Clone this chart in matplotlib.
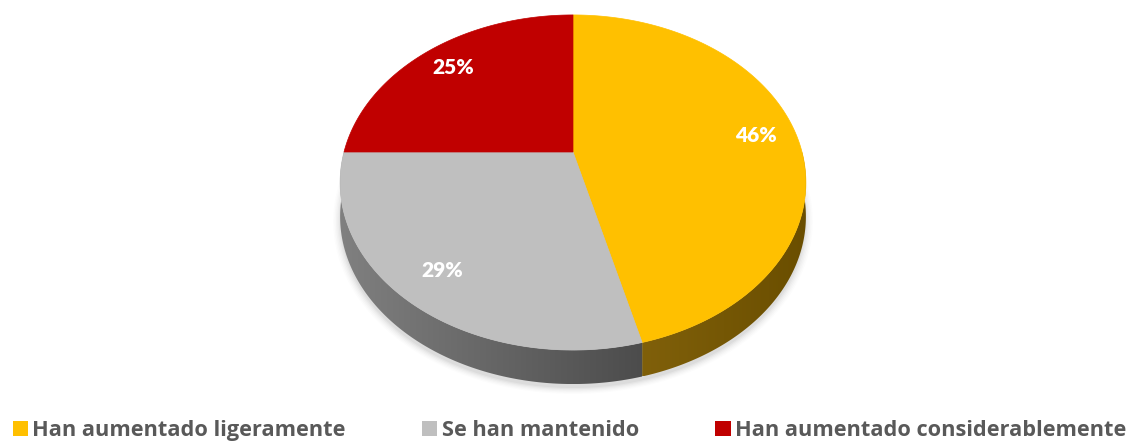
import numpy as np
import matplotlib
matplotlib.use("Agg")
import matplotlib.pyplot as plt
from matplotlib.patches import Polygon, Patch
from matplotlib.colors import LinearSegmentedColormap

# slices, clockwise from 12 o'clock
categories = ["Han aumentado ligeramente", "Se han mantenido", "Han aumentado considerablemente"]
shares = [46, 29, 25]

top_colors = ["#FFC000", "#BFBFBF", "#C00000"]
side_colors = [("#80600A", "#6A4E00"), ("#808080", "#4C4C4C"), ("#7A0000", "#5A0000")]

# perspective disc geometry (pixel space)
CX, CY = 573, 152
A, B, K = 229, 162, 0.182
DEPTH = 34
LABEL_R = 0.82


def project(u, v):
    w = 1 + K * v
    return CX + A * u / w, CY - B * v / w


def arc(t0, t1, n=200):
    t = np.radians(np.linspace(t0, t1, n))
    return project(np.cos(t), np.sin(t))


fig = plt.figure(figsize=(11.38, 4.41), dpi=100)
ax = fig.add_axes([0, 0, 1, 1])
ax.set_xlim(0, 1138)
ax.set_ylim(441, 0)
ax.axis("off")

# wedge angles from the shares
fracs = np.array(shares) / sum(shares)
ends = 90 - 360 * np.cumsum(fracs)
starts = np.concatenate([[90], ends[:-1]])

# faint shadow under the disc
for i, a in enumerate(np.linspace(0.035, 0.01, 6)):
    xs, ys = arc(0, 360)
    grow = 1 + 0.006 * i
    sx = CX + (xs - CX) * grow
    sy = CY + 4 + (ys - CY) * grow + DEPTH
    ax.add_patch(Polygon(np.column_stack([sx, sy]), closed=True,
                         facecolor="black", edgecolor="none", alpha=a, zorder=0))

# side walls of the front half
grad = np.linspace(0, 1, 256).reshape(1, -1)
for s, e, (c0, c1) in zip(starts, ends, side_colors):
    lo, hi = max(e, -180), min(s, 0)
    if lo >= hi:
        lo, hi = max(e + 360, -180), min(s + 360, 0)
        if lo >= hi:
            continue
    xs, ys = arc(hi, lo)
    pts = np.concatenate([np.column_stack([xs, ys]),
                          np.column_stack([xs[::-1], ys[::-1] + DEPTH])])
    poly = Polygon(pts, closed=True, facecolor="none", edgecolor="none", zorder=1)
    ax.add_patch(poly)
    cmap = LinearSegmentedColormap.from_list("side", [c0, c1])
    im = ax.imshow(grad, cmap=cmap, aspect="auto", zorder=1,
                   extent=(xs.min(), xs.max(), ys.max() + DEPTH, ys.min()))
    im.set_clip_path(poly)

ax.set_xlim(0, 1138)
ax.set_ylim(441, 0)

# top faces
for s, e, c in zip(starts, ends, top_colors):
    xs, ys = arc(s, e)
    pts = np.vstack([[CX, CY], np.column_stack([xs, ys])])
    ax.add_patch(Polygon(pts, closed=True, facecolor=c, edgecolor=c, lw=0.5, zorder=2))

# percentage labels
for s, e, p in zip(starts, ends, shares):
    mid = np.radians((s + e) / 2)
    x, y = project(LABEL_R * np.cos(mid), LABEL_R * np.sin(mid))
    ax.text(x, y, f"{p}%", color="white", fontsize=15, fontweight="heavy",
            family="Lato", ha="center", va="center", zorder=3)

handles = [Patch(facecolor=c, edgecolor="none") for c in top_colors]
fig.legend(handles, categories, loc="lower left", bbox_to_anchor=(-0.006, -0.044),
           ncol=3, frameon=False, handlelength=0.7, handleheight=0.7,
           handletextpad=0.2, columnspacing=3.5,
           prop={"family": "Open Sans", "weight": "bold", "size": 15.7},
           labelcolor="#595959")

fig.savefig("out.png", dpi=100, facecolor="white")
